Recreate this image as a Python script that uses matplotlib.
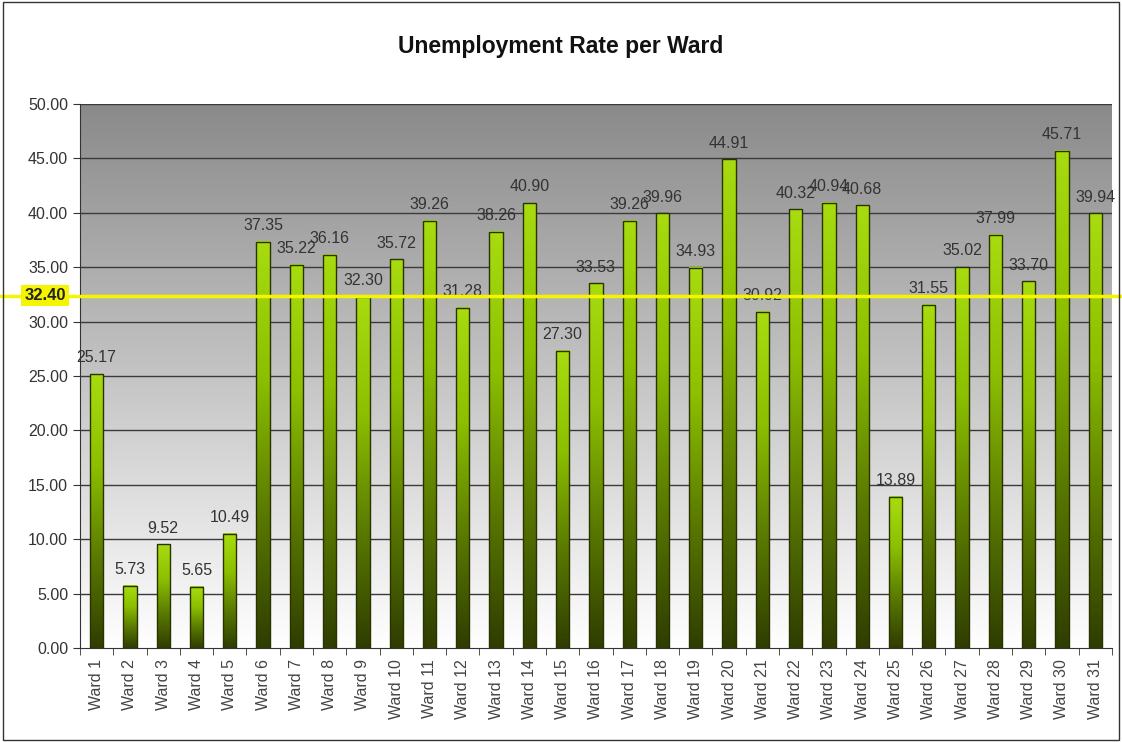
import matplotlib
matplotlib.use("Agg")
import matplotlib.pyplot as plt
import numpy as np
from matplotlib.colors import LinearSegmentedColormap
from matplotlib.transforms import blended_transform_factory
from matplotlib.patches import Rectangle

plt.rcParams['font.family'] = ['Liberation Sans', 'DejaVu Sans']

wards = [f"Ward {i}" for i in range(1, 32)]
rates = [25.17, 5.73, 9.52, 5.65, 10.49, 37.35, 35.22, 36.16, 32.30, 35.72,
         39.26, 31.28, 38.26, 40.90, 27.30, 33.53, 39.26, 39.96, 34.93, 44.91,
         30.92, 40.32, 40.94, 40.68, 13.89, 31.55, 35.02, 37.99, 33.70, 45.71, 39.94]
average = 32.40
title = "Unemployment Rate per Ward"
y_ticks = [0, 5, 10, 15, 20, 25, 30, 35, 40, 45, 50]

fig = plt.figure(figsize=(11.22, 7.42), dpi=100)
ax = fig.add_axes([0.0713, 0.1267, 0.9197, 0.7331])

n = len(rates)
x = np.arange(n)

# background gradient
bg_cmap = LinearSegmentedColormap.from_list("bg", ["#ffffff", "#8a8a8a"])
grad = np.linspace(0, 1, 256).reshape(-1, 1)
ax.imshow(grad, aspect="auto", cmap=bg_cmap, origin="lower",
          extent=[-0.5, n - 0.5, 0, 50], zorder=0)

# grid
for yv in y_ticks[1:]:
    ax.axhline(yv, color="#3a3a3a", lw=1.0, zorder=1)

# bars
bar_cmap = LinearSegmentedColormap.from_list("bar", ["#2f3d00", "#5a7a00", "#8cc000", "#a8dc10"])
w = 0.4
ax.bar(x, rates, width=w, facecolor="none", edgecolor="#2a3300", lw=1.0, zorder=3)
for xi, r in zip(x, rates):
    ax.imshow(grad, aspect="auto", cmap=bar_cmap, origin="lower",
              extent=[xi - w / 2, xi + w / 2, 0, r], zorder=2)
    ax.text(xi, r + 0.8, f"{r:.2f}", ha="center", va="bottom", fontsize=11.5,
            color="#333333", zorder=5)
ax.set_xlim(-0.5, n - 0.5)
ax.set_ylim(0, 50)

# average line spanning the figure
trans = blended_transform_factory(fig.transFigure, ax.transData)
ax.plot([0, 1], [average, average], transform=trans, color="#f5f500", lw=2.5,
        clip_on=False, zorder=6)
ax.text(45 / 1122, average, f"{average:.2f}", transform=trans, ha="center", va="center",
        fontsize=12, fontweight="bold", color="#222222", zorder=7,
        bbox=dict(boxstyle="square,pad=0.2", facecolor="#f5f500", edgecolor="none"))

# axes styling
ax.set_yticks(y_ticks)
ax.set_yticklabels([f"{v:.2f}" for v in y_ticks], fontsize=11.5, color="#333333")
ax.set_xticks(x)
ax.set_xticklabels(wards, rotation=90, fontsize=11.5, color="#444444")
ax.tick_params(axis="x", which="major", length=0, pad=8)
ax.set_xticks(np.arange(-0.5, n, 1), minor=True)
ax.tick_params(axis="x", which="minor", length=5, color="#333333")
ax.tick_params(axis="y", length=5, color="#333333")
for s in ["top", "right"]:
    ax.spines[s].set_visible(False)
for s in ["left", "bottom"]:
    ax.spines[s].set_color("#333333")

fig.text(0.5, 1 - 46 / 742, title, ha="center", va="center", fontsize=16.5,
         fontweight="bold", color="#111111")

fig.patches.append(Rectangle((0.003, 0.003), 0.994, 0.994, transform=fig.transFigure,
                             fill=False, edgecolor="#333333", lw=1))

fig.savefig("out.png", dpi=100)
